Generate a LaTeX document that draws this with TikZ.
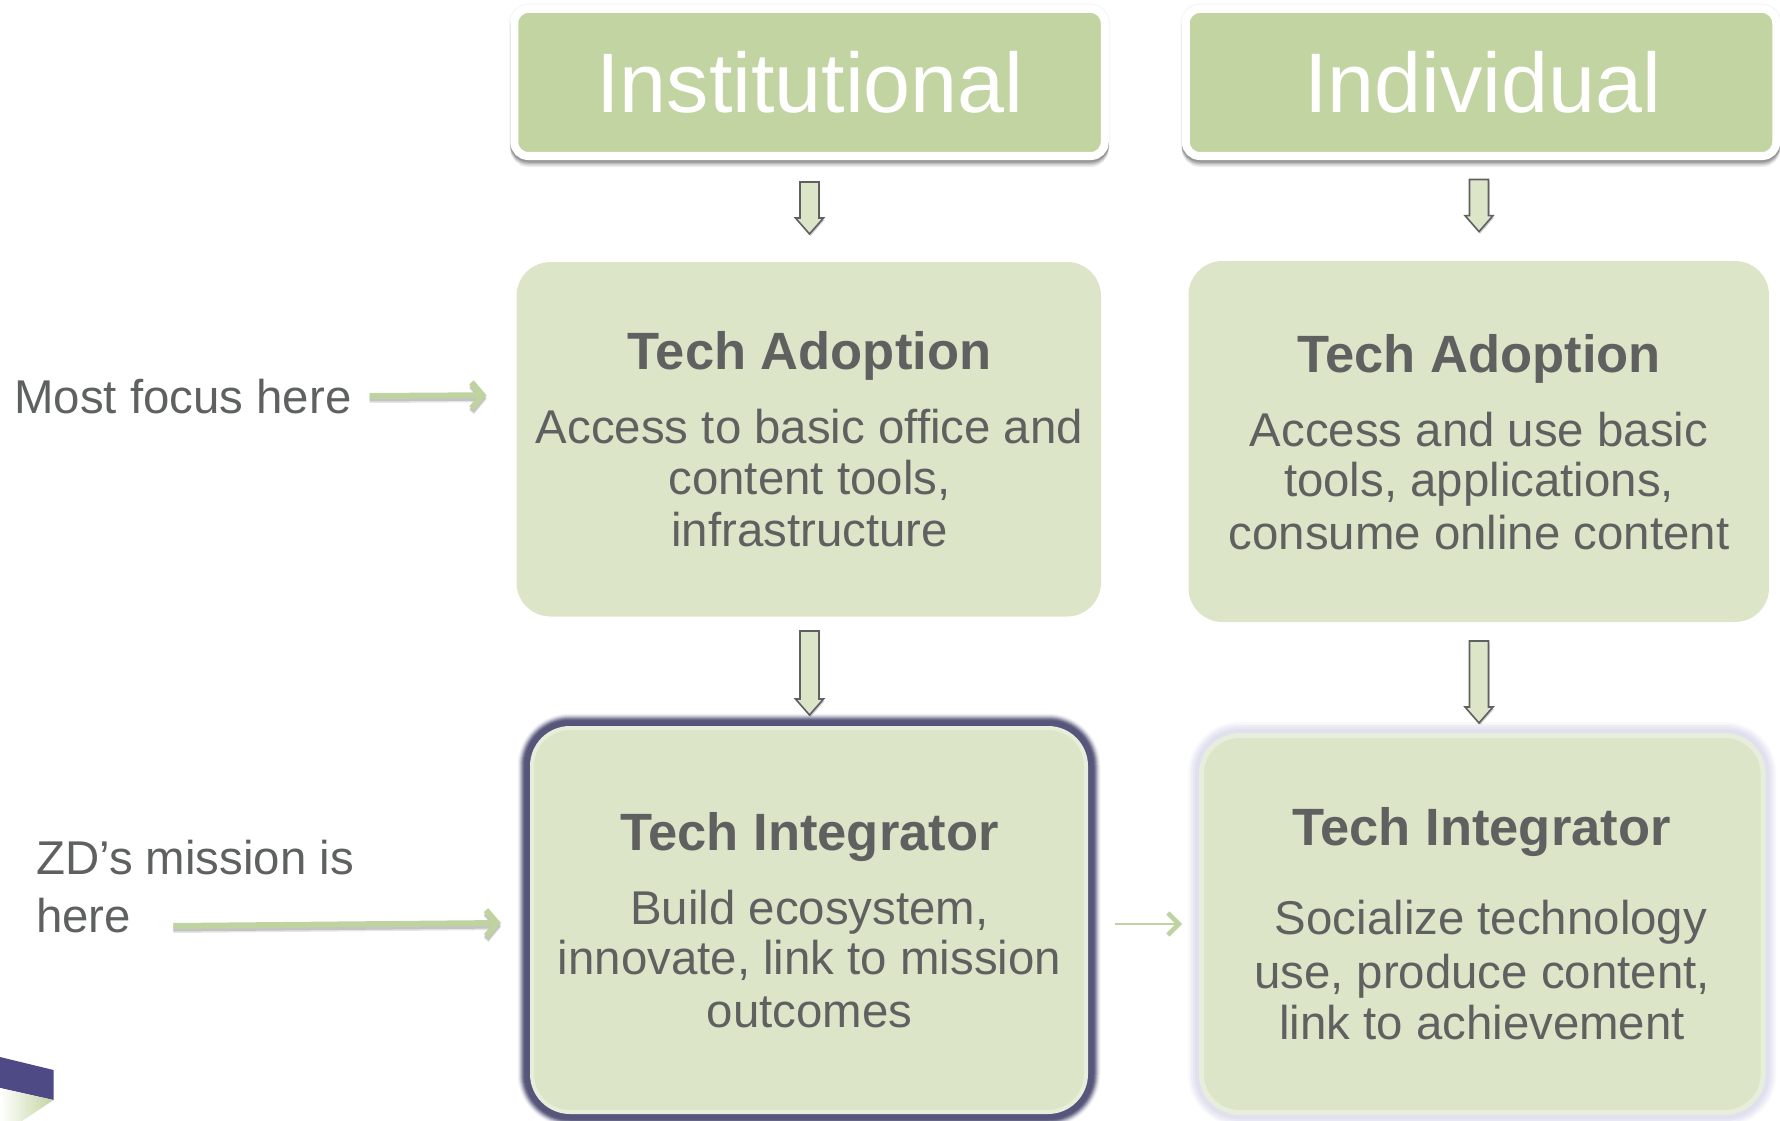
\documentclass[tikz,border=0pt]{standalone}
\usepackage{fontspec}
\setmainfont{Liberation Sans}
\usetikzlibrary{calc,arrows.meta,shadows}
\definecolor{hdrgreen}{HTML}{C2D4A1}
\definecolor{boxgreen}{HTML}{DCE5C7}
\definecolor{rimgreen}{HTML}{E7EEDB}
\definecolor{txtgray}{HTML}{5F6161}
\definecolor{darkglow}{HTML}{55557A}
\definecolor{paleglow}{HTML}{DDDDEE}
\definecolor{arrgreen}{HTML}{BED3A0}
\definecolor{ribbon}{HTML}{4D4A85}
\tikzset{
  boxbase/.style={rectangle,inner sep=0pt,outer sep=0pt},
  hdrbox/.style={boxbase,fill=hdrgreen,draw=white,line width=8pt,rounded corners=14pt,
    preaction={draw=black,opacity=.03,line width=11pt},
    preaction={draw=black,opacity=.07,line width=8pt,transform canvas={yshift=-7pt}},
    preaction={draw=black,opacity=.10,line width=8pt,transform canvas={yshift=-5.5pt}},
    preaction={draw=black,opacity=.13,line width=8pt,transform canvas={yshift=-4pt}},
    preaction={draw=black,opacity=.16,line width=8pt,transform canvas={yshift=-2.5pt}}},
  adoptbox/.style={boxbase,fill=boxgreen,rounded corners=34pt},
  integdark/.style={boxbase,fill=boxgreen,draw=rimgreen,line width=4pt,rounded corners=38pt,
    preaction={draw=darkglow,line width=29pt,opacity=.06},
    preaction={draw=darkglow,line width=27pt,opacity=.10},
    preaction={draw=darkglow,line width=25pt,opacity=.16},
    preaction={draw=darkglow,line width=23pt,opacity=.24},
    preaction={draw=darkglow,line width=21pt,opacity=.35},
    preaction={draw=darkglow,line width=19pt,opacity=.5},
    preaction={draw=darkglow,line width=17pt,opacity=.7},
    preaction={draw=darkglow,line width=15pt,opacity=.95}},
  integpale/.style={boxbase,fill=boxgreen,draw=rimgreen,line width=5pt,rounded corners=38pt,
    preaction={draw=paleglow,line width=27pt,opacity=.15},
    preaction={draw=paleglow,line width=24pt,opacity=.2},
    preaction={draw=paleglow,line width=21pt,opacity=.3},
    preaction={draw=paleglow,line width=17pt,opacity=.4},
    preaction={draw=paleglow,line width=13pt,opacity=.7}},
  hdrtext/.style={anchor=base,inner sep=0pt,text=white,font=\fontsize{84.5}{90}\selectfont},
  headtext/.style={anchor=base,inner sep=0pt,text=txtgray,font=\bfseries\fontsize{52.5}{55}\selectfont},
  bodytext/.style={anchor=base,inner sep=0pt,text=txtgray,font=\fontsize{47.4}{50}\selectfont},
  sidetext/.style={anchor=base west,inner sep=0pt,text=txtgray,font=\fontsize{47.4}{50}\selectfont},
  greenarrow/.style={draw=arrgreen,line width=6pt,
    -{Straight Barb[length=11pt,width=26pt,line width=6pt]},
    preaction={draw=black,opacity=.10,line width=6pt,transform canvas={yshift=-4pt}},
    preaction={draw=black,opacity=.15,line width=6pt,transform canvas={yshift=-2.5pt}}},
  thinarrow/.style={draw=arrgreen,line width=2pt,
    -{Straight Barb[length=11pt,width=22pt,line width=4.5pt]}},
  blockarrow/.style={fill=boxgreen,draw=txtgray,line width=1.6pt,line join=miter,
    drop shadow={shadow xshift=1pt,shadow yshift=-2pt,opacity=.2,fill=black}},
}
\newcommand{\blockconn}[5]{%
  \coordinate (bs) at ($(#1.south -| #2.north)+(#3,#4)$);
  \coordinate (be) at ($(#2.north)+(#3,-#5)$);
  \path[blockarrow] ($(bs)+(-9.5,0)$) -- ($(bs)+(9.5,0)$) -- ($(be)+(9.5,-16)$) -- ($(be)+(14,-16)$)
    -- (be) -- ($(be)+(-14,-16)$) -- ($(be)+(-9.5,-16)$) -- cycle;
}
\begin{document}
\begin{tikzpicture}[x=1pt,y=-1pt]
\useasboundingbox (0,0) rectangle (1780,1121);
% ribbon
\fill[ribbon] (0,1057) -- (53.5,1070) -- (53.5,1100) -- (0,1088) -- cycle;
\shade[left color=white,right color=hdrgreen] (0,1088) -- (53.5,1100) -- (22,1121) -- (0,1121) -- cycle;
% header boxes
\node[hdrbox,minimum width=590.5pt,minimum height=147pt] (hdrL) at (809.5,82.5) {};
\node[hdrbox,minimum width=590.5pt,minimum height=147pt] (hdrR) at (1481,82.5) {};
\node[hdrtext] (hdrLt) at (810,112.4) {Institutional};
\node[hdrtext] (hdrRt) at (1483,112.4) {Individual};
% adoption
\node[adoptbox,minimum width=584.5pt,minimum height=354.5pt] (adoptL) at (808.75,439.25) {};
\node[adoptbox,minimum width=580.5pt,minimum height=361pt] (adoptR) at (1478.75,441.5) {};
\node[headtext] (aLh) at (809.5,369) {Tech Adoption};
\node[bodytext] (aL1) at (809.5,443.5) {Access to basic office and};
\node[bodytext] (aL2) at (809.5,494) {content tools,};
\node[bodytext] (aL3) at (809.5,546) {infrastructure};
\node[headtext] (aRh) at (1479,372) {Tech Adoption};
\node[bodytext] (aR1) at (1479,446) {Access and use basic};
\node[bodytext] (aR2) at (1479,496) {tools, applications,};
\node[bodytext] (aR3) at (1479,549) {consume online content};
% integrator
\node[integdark,minimum width=554pt,minimum height=384pt] (integL) at (809,920) {};
\node[integpale,minimum width=561.5pt,minimum height=377pt] (integR) at (1482.25,924) {};
\node[headtext] (iLh) at (809.5,850) {Tech Integrator};
\node[bodytext] (iL1) at (809.5,924) {Build ecosystem,};
\node[bodytext] (iL2) at (809.5,974.5) {innovate, link to mission};
\node[bodytext] (iL3) at (809.5,1027) {outcomes};
\node[headtext] (iRh) at (1481.5,845.5) {Tech Integrator};
\node[bodytext] (iR1) at (1491,934) {Socialize technology};
\node[bodytext] (iR2) at (1482,988) {use, produce content,};
\node[bodytext] (iR3) at (1482,1039.5) {link to achievement};
% block arrows
\blockconn{hdrL}{adoptL}{0.75}{26}{28}
\blockconn{hdrR}{adoptR}{0.25}{23.5}{29.4}
\blockconn{adoptL}{integL}{0.5}{14.5}{13}
\blockconn{adoptR}{integR}{-3.25}{19}{12.5}
% side labels
\node[sidetext] (most) at (14,413.5) {Most focus here};
\node[sidetext] (zd1) at (36,874.5) {ZD’s mission is};
\node[sidetext] (zd2) at (36,932.5) {here};
% green arrows
\draw[greenarrow] ($(most.base east)+(18,-17.5)$) -- ($(adoptL.west)+(-30,-44)$);
\draw[greenarrow] ($(zd2.base east)+(42,-6.5)$) -- ($(integL.west)+(-31,3)$);
\draw[thinarrow] ($(integL.east)+(29,4)$) -- ($(integR.west)+(-19.5,0)$);
\end{tikzpicture}
\end{document}
